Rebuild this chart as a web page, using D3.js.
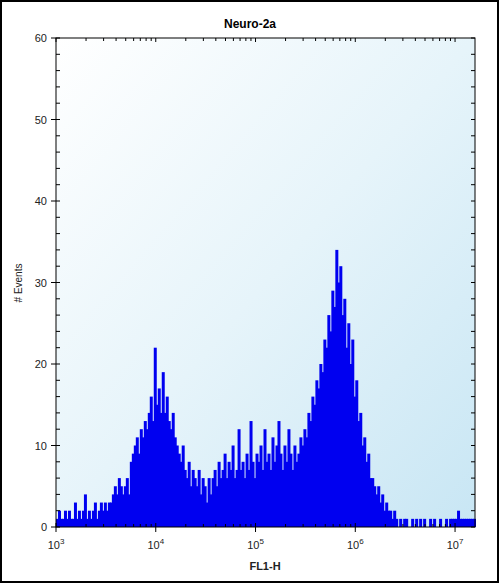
<!DOCTYPE html><html><head><meta charset="utf-8"><script src="https://cdn.jsdelivr.net/npm/d3@7"></script>
<style>body{margin:0;background:#fff}text{font-family:Arial,"Liberation Sans",sans-serif}</style></head><body><svg id="c" width="499" height="583"></svg><script>
const title="Neuro-2a", xLabel="FL1-H", yLabel="# Events";
const logStart=3, binWidth=0.02;
const counts=[1,2,1,1,2,1,2,1,1,3,1,2,1,2,4,1,2,1,2,3,1,2,3,2,3,2,3,
3,4,5,4,6,5,4,5,6,4,
8,9,10,11,9,12,11,13,12,14,
16,13,22,15,17,14,
19,14,16,13,12,14,11,10,9,8,10,7,
6,8,5,7,6,5,7,4,6,5,3,6,4,
6,7,5,8,6,7,9,6,8,7,10,6,7,12,7,8,6,9,7,13,8,6,9,8,10,7,12,8,9,7,11,8,10,13,9,7,10,8,12,9,7,10,8,9,11,
10,12,11,14,13,16,15,18,17,20,
19,23,22,26,24,29,27,34,30,32,26,28,22,
25,20,23,16,18,13,14,10,11,8,9,6,
6,5,4,5,3,4,2,3,2,2,1,2,1,
0,1,0,1,1,0,0,1,0,1,0,1,0,1,0,0,1,0,1,0,0,1,0,0,1,0,1,1,1,1,2,1,1,1,1,1,1,1,1];
const yTicks=[0,10,20,30,40,50,60];
const xDecades=[3,4,5,6,7];
const svg=d3.select("#c");
const L=56,R=475,T=38,B=527;
const x=d3.scaleLog().domain([1e3,Math.pow(10,7.2)]).range([L,R]);
const y=d3.scaleLinear().domain([0,60]).range([B,T]);
const defs=svg.append("defs");
const g=defs.append("linearGradient").attr("id","bg").attr("x1","0").attr("y1","0").attr("x2","1").attr("y2","1");
g.append("stop").attr("offset","0").attr("stop-color","#ffffff");
g.append("stop").attr("offset","0.5").attr("stop-color","#e6f4fa");
g.append("stop").attr("offset","1").attr("stop-color","#c8e6f4");
svg.append("rect").attr("x",1).attr("y",1).attr("width",497).attr("height",581).attr("fill","#fff").attr("stroke","#000").attr("stroke-width",2);
svg.append("rect").attr("x",L).attr("y",T).attr("width",R-L).attr("height",B-T).attr("fill","url(#bg)");
const bins=counts.map((c,i)=>({x0:Math.pow(10,logStart+i*binWidth),x1:Math.pow(10,logStart+(i+1)*binWidth),c}));
svg.append("g").selectAll("rect").data(bins).join("rect")
 .attr("x",d=>x(d.x0)).attr("width",d=>x(d.x1)-x(d.x0)+1)
 .attr("y",d=>y(d.c)).attr("height",d=>B-y(d.c)).attr("fill","#0000f0");
const ax=svg.append("g").attr("stroke","#000").attr("stroke-width",1);
ax.append("rect").attr("x",L).attr("y",T).attr("width",R-L).attr("height",B-T).attr("fill","none");
for(let v=0;v<=60;v+=2){const yy=y(v),maj=v%10==0;
 ax.append("line").attr("x1",L-(maj?5:0)).attr("x2",L+4).attr("y1",yy).attr("y2",yy);
 ax.append("line").attr("x1",R-4).attr("x2",R).attr("y1",yy).attr("y2",yy);}
const xt=[];for(let d=3;d<=7;d++)for(let m=1;m<=9;m++){const v=m*Math.pow(10,d);if(v<=Math.pow(10,7.2))xt.push([v,m==1]);}
xt.forEach(([v,maj])=>{const xx=x(v);
 ax.append("line").attr("x1",xx).attr("x2",xx).attr("y1",B-(maj?4:3)).attr("y2",B+(maj?5:0));
 ax.append("line").attr("x1",xx).attr("x2",xx).attr("y1",T).attr("y2",T+(maj?4:3));});
svg.append("g").selectAll("text").data(yTicks).join("text").attr("x",L-9).attr("y",d=>y(d)+4).attr("text-anchor","end").attr("font-size",11).attr("fill","#222").text(d=>d);
const xl=svg.append("g").selectAll("text").data(xDecades).join("text").attr("x",d=>x(Math.pow(10,d))).attr("y",549).attr("text-anchor","middle").attr("font-size",11).attr("fill","#222");
xl.append("tspan").text("10");xl.append("tspan").attr("dy",-5).attr("font-size",8).text(d=>d);
svg.append("text").attr("x",250).attr("y",28).attr("text-anchor","middle").attr("font-size",12).attr("font-weight","bold").text(title);
svg.append("text").attr("x",265).attr("y",570).attr("text-anchor","middle").attr("font-size",11).attr("font-weight","bold").attr("fill","#222").text(xLabel);
svg.append("text").attr("transform","translate(22,283) rotate(-90)").attr("text-anchor","middle").attr("font-size",10).attr("fill","#222").text(yLabel);
</script></body></html>
